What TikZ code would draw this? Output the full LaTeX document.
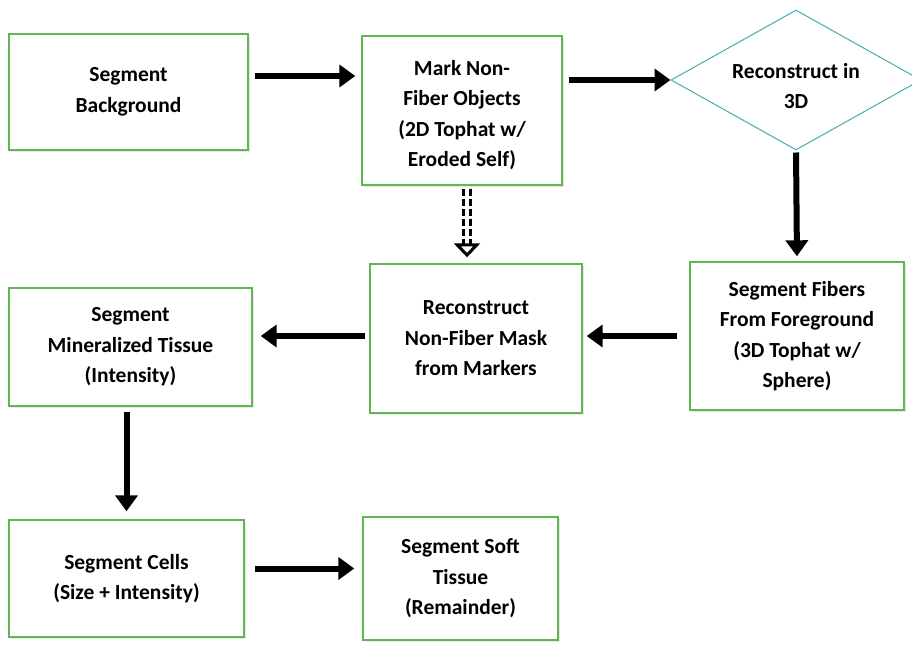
\documentclass[tikz,border=0pt]{standalone}
\usepackage{fontspec}
\setmainfont{Carlito}
\usepackage{tikz}
\usetikzlibrary{
  arrows.meta,
  positioning,
  calc,
  shapes.geometric,
  shadows
}
\definecolor{boxgreen}{RGB}{96,182,80}
\definecolor{diateal}{RGB}{70,172,172}

\begin{document}
\begin{tikzpicture}[
      x=1pt, y=-1pt,
      etapa/.style={draw=boxgreen, line width=1.4pt, fill=white,
                    align=center, inner sep=2pt,
                    drop shadow={opacity=0.18, shadow xshift=2pt, shadow yshift=-2pt},
                    font=\fontsize{21.5}{30.5}\selectfont\bfseries},
      decisao/.style={diamond, draw=diateal, line width=1pt, fill=white,
                    aspect=1.8, inner sep=0pt, align=center,
                    minimum width=250pt, minimum height=140pt,
                    font=\fontsize{21.5}{30}\selectfont\bfseries},
      seta/.style={-{Triangle[width=22pt, length=16pt]}, line width=6pt, black},
      setatrac/.style={-{Triangle[open, width=26pt, length=14pt]},
                    dash pattern=on 7pt off 3pt,
                    line width=3pt, double=white, double distance=4pt, black}
  ]
      \useasboundingbox (0,0) rectangle (912,648);

      % --- LINHA 1 ---
      \node[etapa, minimum width=239pt, minimum height=116pt] (fundo) at (128.5,92) {Segment\\Background};
      \node[etapa, minimum width=200pt, minimum height=149pt] (marca) at (462,110.5) {\rule{0pt}{24pt}Mark Non-\\Fiber Objects\\(2D Tophat w/\\Eroded Self)};
      \node[decisao] (rec3d) at (796,80) {\rule{0pt}{27pt}Reconstruct in\\3D};

      % --- LINHA 2 ---
      \node[etapa, minimum width=214pt, minimum height=148pt] (fibras) at (797,336) {Segment Fibers\\From Foreground\\(3D Tophat w/\\Sphere)};
      \node[etapa, minimum width=212pt, minimum height=149pt] (mascara) at (476,338.5) {Reconstruct\\Non-Fiber Mask\\from Markers};
      \node[etapa, minimum width=243pt, minimum height=118pt] (mineral) at (130.5,347) {Segment\\Mineralized Tissue\\(Intensity)};

      % --- LINHA 3 ---
      \node[etapa, minimum width=235pt, minimum height=117pt] (celulas) at (126.5,578.5) {Segment Cells\\(Size + Intensity)};
      \node[etapa, minimum width=195pt, minimum height=123pt] (mole) at (460.5,578.5) {Segment Soft\\Tissue\\(Remainder)};

      % --- SETAS ---
      \draw[seta, shorten <=6pt, shorten >=6pt] ([yshift=16pt]fundo.east) -- ([yshift=16pt]fundo.east -| marca.west);
      \draw[seta, shorten <=6pt] (marca.east |- rec3d.west) -- (rec3d.west);
      \draw[seta, shorten <=2pt, shorten >=5pt] (rec3d.south) -- (fibras.north);
      \draw[seta, shorten <=12pt, shorten >=4pt] (fibras.west) -- (mascara.east |- fibras.west);
      \draw[seta, shorten <=4pt, shorten >=8pt] (mascara.west |- fibras.west) -- (mineral.east |- fibras.west);
      \draw[seta, shorten <=5pt, shorten >=8pt] (celulas.north |- mineral.south) -- (celulas.north);
      \draw[seta, shorten <=10pt, shorten >=8pt] ([yshift=10pt]celulas.east) -- ([yshift=10pt]celulas.east -| mole.west);
      \draw[setatrac, shorten <=3pt, shorten >=6pt] ([xshift=5pt]marca.south) -- ([xshift=5pt]marca.south |- mascara.north);

  \end{tikzpicture}
\end{document}
